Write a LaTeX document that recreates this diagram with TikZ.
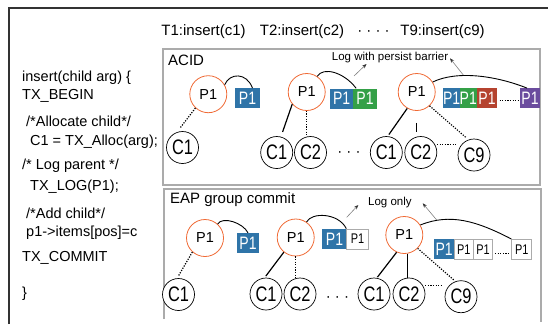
\documentclass[tikz,border=0pt]{standalone}
\usepackage{fontspec}
\setmainfont{Liberation Sans}
\newfontfamily\narrowfont{Liberation Sans}[FakeStretch=0.78]
\usetikzlibrary{arrows.meta}
\definecolor{eapOrange}{HTML}{F06A35}
\definecolor{eapBlue}{HTML}{2F74A8}
\definecolor{eapGreen}{HTML}{34A047}
\definecolor{eapRed}{HTML}{B5432F}
\definecolor{eapPurple}{HTML}{6B4C9E}
\definecolor{eapFrame}{HTML}{ABABAB}
\newcommand{\px}[1]{\fontsize{#1bp}{#1bp}\selectfont}

\begin{document}
\begin{tikzpicture}[x=1bp,y=-1bp,
    lbl/.style={inner sep=0pt,anchor=base,font=\px{15}},
    code/.style={inner sep=0pt,anchor=base west,font=\px{14.5}},
    note/.style={inner sep=0pt,anchor=base west,font=\px{11.5}},
    parent/.style={circle,draw=eapOrange,fill=white,line width=0.8pt,
                   minimum size=37bp,inner sep=0pt,font=\px{14.5}},
    child/.style={circle,draw=black,fill=white,line width=0.7pt,
                  minimum size=32bp,inner sep=0pt,font=\narrowfont\px{21}},
    logent/.style={minimum height=20bp,inner sep=0pt,text=white,font=\narrowfont\px{18}},
    blu/.style={logent,fill=eapBlue},
    grn/.style={logent,fill=eapGreen},
    rdd/.style={logent,fill=eapRed},
    pur/.style={logent,fill=eapPurple},
    emp/.style={draw=eapFrame,line width=0.7pt,fill=white,minimum height=20bp,
                inner sep=0pt,font=\narrowfont\px{14}},
    outer/.style={draw=black!80,line width=1.2pt},
    panel/.style={draw=eapFrame,line width=1.1pt},
    link/.style={line width=1.2pt},
    dotlink/.style={line width=1.2pt,dash pattern=on 1.2pt off 1.4pt},
    loop/.style={line width=0.9pt},
    ptr/.style={-{Stealth[length=4.5bp,width=3.5bp,color=black!80]},draw=gray,line width=0.6pt}]

  \useasboundingbox (0,0) rectangle (548,324);
  \draw[outer] (9,324) |- (548,8);
  \draw[panel] (163,49) rectangle (540,185);
  \draw[panel] (164,319) |- (541,189) -- (541,322);

  % transactions
  \node[lbl] (t1) at (203.5,35.5) {T1:insert(c1)};
  \node[lbl] (t2) at (302,35.5) {T2:insert(c2)};
  \node[lbl] (tdots) at (373.5,35.5) {· · · ·};
  \node[lbl] (t9) at (442.5,35.5) {T9:insert(c9)};

  % code
  \node[code] (l1) at (22,81) {insert(child arg) \{};
  \node[code] (l2) at (22,99.3) {TX\_BEGIN};
  \node[code] (l3) at (26,126.5) {/*Allocate child*/};
  \node[code] (l4) at (30,145) {C1 = TX\_Alloc(arg);};
  \node[code] (l5) at (22,169) {/* Log parent */};
  \node[code] (l6) at (30,190) {TX\_LOG(P1);};
  \node[code] (l7) at (26,218.3) {/*Add child*/};
  \node[code] (l8) at (26,236) {p1->items[pos]=c};
  \node[code] (l9) at (22,261.7) {TX\_COMMIT};
  \node[code] (l10) at (22,297) {\}};

  \node[lbl,anchor=base west] (acid) at (168,65.5) {ACID};
  \node[lbl,anchor=base west] (eap) at (170,203) {EAP group commit};
  \node[note] (persist) at (331.7,60) {Log with persist barrier};
  \node[note] (logonly) at (368,205) {Log only};

  % ACID, T1
  \node[parent] (pa1) at (208.3,94.2) {P1};
  \node[blu,minimum width=25bp] (ba1) at (247.5,98.3) {P1};
  \node[child] (ca1) at (182.5,147.5) {C1};
  \draw[loop] (pa1.30) .. controls +(5,-12) and +(-6,-16) .. ([xshift=5bp]ba1.north);
  \draw[dotlink,shorten >=5bp] (pa1.227) -- (ca1.110);

  % ACID, T2
  \node[parent] (pa2) at (306.7,92) {P1};
  \node[blu,minimum width=23.3bp] (ba2) at (341.7,98.5) {P1};
  \node[grn,minimum width=23.3bp] (ga2) at (365,98.5) {P1};
  \node[child] (ca21) at (276.7,152.5) {C1};
  \node[child] (ca22) at (310.5,152.5) {C2};
  \node[lbl] (dotsA) at (349,156) {· · ·};
  \draw[loop] (pa2.56) .. controls +(6,-10) and +(-12,-16) .. ([xshift=3bp]ga2.north west);
  \draw[link,shorten >=5bp] (pa2.220) -- (ca21.75);
  \draw[dotlink] (pa2.south) -- (pa2.south |- ca22.north);
  \coordinate (tailA2) at (354,76);
  \coordinate (tipA2) at (366.5,64);
  \draw[ptr] (tailA2) -- (tipA2);

  % ACID, T9
  \node[parent] (pa3) at (416.7,92) {P1};
  \node[blu,minimum width=16.7bp] (ba3) at (451.7,98.3) {P1};
  \node[grn,minimum width=16.7bp] (ga3) at (468.3,98.3) {P1};
  \node[rdd,minimum width=20.7bp] (ra3) at (487,98.3) {P1};
  \node[pur,minimum width=20bp] (ua3) at (530,98.3) {P1};
  \node[child] (ca31) at (386.3,152.5) {C1};
  \node[child] (ca32) at (420.8,152.5) {C2};
  \node[child] (ca39) at (474,155) {C9};
  \draw[loop] (pa3.32) .. controls +(25,-12) and +(-30,-12) .. ([xshift=-3bp]ua3.north);
  \draw[dotlink,shorten <=2bp,shorten >=2bp] ([yshift=-2bp]ra3.east) -- ([yshift=-2bp]ua3.west);
  \draw[link,shorten >=2bp] (pa3.240) -- (ca31.85);
  \draw[link,shorten <=12bp,shorten >=4bp] (pa3.south) -- (pa3.south |- ca32.north);
  \draw[dotlink,shorten >=3bp] (pa3.-47) -- (ca39.110);
  \draw[dotlink,shorten <=2bp,shorten >=2bp] (ca32.30) -- (ca32.30 -| ca39.west);
  \coordinate (tailA3) at (463.3,75);
  \coordinate (tipA3) at (450,58.3);
  \draw[ptr] (tailA3) -- (tipA3);

  % EAP, T1
  \node[parent] (pe1) at (205,238) {P1};
  \node[blu,minimum width=22bp] (be1) at (248,243) {P1};
  \node[child] (ce1) at (178.5,294.5) {C1};
  \draw[loop] (pe1.48) .. controls +(5,-8) and +(-5,-10) .. (be1.north);
  \draw[dotlink,shorten >=3bp] (pe1.228) -- (ce1.95);

  % EAP, T2
  \node[parent] (pe2) at (295.7,237.5) {P1};
  \node[blu,minimum width=24.4bp] (be2) at (334.5,239) {P1};
  \node[emp,minimum width=21.6bp] (we2) at (357.5,239) {P1};
  \node[child] (ce21) at (266,294) {C1};
  \node[child] (ce22) at (300,294) {C2};
  \node[lbl] (dotsE) at (337.5,301.7) {· · ·};
  \draw[loop] (pe2.55) .. controls +(5,-10) and +(-8,-16) .. (we2.north west);
  \draw[link,shorten >=2bp] (pe2.231) -- (ce21.95);
  \draw[dotlink] (pe2.south) -- (pe2.south |- ce22.north);
  \coordinate (tailE2) at (346.7,217.3);
  \coordinate (tipE2) at (358.3,205);
  \draw[ptr] (tailE2) -- (tipE2);

  % EAP, T9
  \node[parent] (pe3) at (404.3,235) {P1};
  \node[blu,minimum width=19.7bp] (be3) at (444.2,249.3) {P1};
  \node[emp,minimum width=19.3bp] (we31) at (463.7,249.3) {P1};
  \node[emp,minimum width=19.3bp] (we32) at (483,249.3) {P1};
  \node[emp,minimum width=20bp] (we39) at (521.7,249.3) {P1};
  \node[child] (ce31) at (374,294) {C1};
  \node[child] (ce32) at (409,294) {C2};
  \node[child] (ce39) at (461,296.7) {C9};
  \draw[loop] (pe3.32) .. controls +(30,-12) and +(-35,-18) .. (we39.north west);
  \draw[dotlink,shorten <=2bp,shorten >=2bp] ([yshift=6bp]we32.south east) -- ([yshift=6bp]we39.south west);
  \draw[link,shorten >=1bp] (pe3.246) -- (ce31.80);
  \draw[link] (pe3.-80) -- (pe3.-80 |- ce32.north);
  \draw[dotlink,shorten >=2bp] (pe3.-45) -- (ce39.110);
  \draw[dotlink,shorten <=2bp,shorten >=2bp] (ce32.30) -- (ce32.30 -| ce39.west);
  \coordinate (tailE3) at (436.7,220);
  \coordinate (tipE3) at (422.7,203.3);
  \draw[ptr] (tailE3) -- (tipE3);
\end{tikzpicture}
\end{document}
